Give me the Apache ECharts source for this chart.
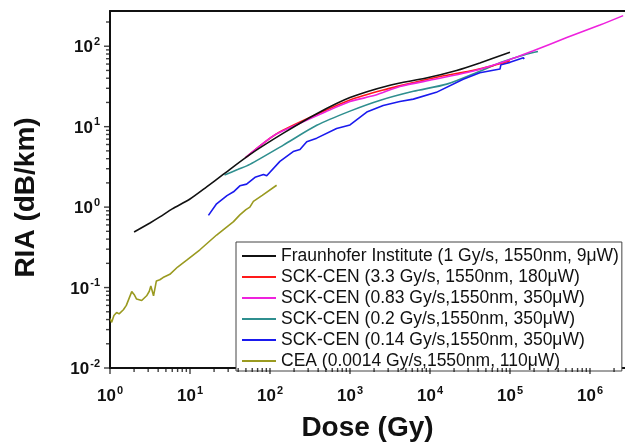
<!DOCTYPE html>
<html><head><meta charset="utf-8">
<script src="https://cdn.jsdelivr.net/npm/echarts@6/dist/echarts.min.js"></script>
<style>html,body{margin:0;padding:0;background:#fff}#c{width:625px;height:447px}</style>
</head><body><div id="c"></div>
<script>
const seriesNames = [
  'Fraunhofer Institute (1 Gy/s, 1550nm, 9\u03bcW)',
  'SCK-CEN (3.3 Gy/s, 1550nm, 180\u03bcW)',
  'SCK-CEN (0.83 Gy/s,1550nm, 350\u03bcW)',
  'SCK-CEN (0.2 Gy/s,1550nm, 350\u03bcW)',
  'SCK-CEN (0.14 Gy/s,1550nm, 350\u03bcW)',
  'CEA (0.0014 Gy/s,1550nm, 110\u03bcW)'
];
const fraunhoferDose = [2,3.2,4.2,6,10,16,26,56,147,384,1000,3160,8700,21500,42000,100000];
const fraunhoferRIA  = [0.49,0.64,0.755,0.95,1.26,1.77,2.55,4.5,8.3,14.5,23,32.8,40,50,62,84];
const sck33Dose = [50,120,445,1000,2600,6000,13300,31600,60000,100000];
const sck33RIA  = [4.15,8.1,15.2,21.5,28.5,35,42,49,57,66];
const sck083Dose = [49,115,237,490,1000,2050,4200,11000,29000,75000,196000,513000,1330000,2600000];
const sck083RIA  = [4.1,7.9,11,15.2,20.5,24.5,31.5,38.5,47,62,88,128,183,240];
const sck02Dose = [27,40,56,147,384,1000,2400,6200,16200,42000,81000,150000,224000];
const sck02RIA  = [2.5,2.95,3.4,5.9,10.4,15.6,21.3,27.5,33.8,49,64,78,86];
const sck014Dose = [17,21.5,29,35,42,51,65,83,91,133,195,237,288,384,680,1000,1620,2600,4200,6200,12000,26000,42000,75000,77000,100000,147000,150000];
const sck014RIA  = [0.79,1.1,1.39,1.55,1.84,1.93,2.35,2.55,2.45,3.7,4.9,5.2,6.5,7.2,9.5,10.5,15.2,18.3,20.5,22,26.7,38.8,46.9,52,59,63,72,69];
const ceaDose = [1,1.05,1.12,1.21,1.3,1.47,1.6,1.87,2.0,2.15,2.49,2.87,3.1,3.24,3.5,3.8,4.2,4.6,5.6,7,9.1,13.3,21.5,35,42,50,56,62,80,121];
const ceaRIA  = [0.041,0.037,0.045,0.049,0.047,0.053,0.06,0.089,0.082,0.072,0.069,0.079,0.09,0.105,0.079,0.121,0.125,0.133,0.146,0.18,0.219,0.295,0.45,0.66,0.8,0.93,1.0,1.18,1.4,1.87];
const colors = ['#111111','#ff1a1a','#ee22dd','#2f8f8f','#1a1aee','#9a9a20'];
const xMin = 1, xMax = 2.74e6, yMin = 0.01, yMax = 274;

function pairs(a,b){ return a.map((v,i)=>[v,b[i]]); }
const dataSets = [
  pairs(fraunhoferDose,fraunhoferRIA), pairs(sck33Dose,sck33RIA), pairs(sck083Dose,sck083RIA),
  pairs(sck02Dose,sck02RIA), pairs(sck014Dose,sck014RIA), pairs(ceaDose,ceaRIA)
];
const xMajor = [], xMinor = [], yMajor = [], yMinor = [];
for (let k=0;k<=6;k++) for (let m=1;m<=9;m++){ const v=Number((m*Math.pow(10,k)).toPrecision(12)); if(v<=xMax) (m===1?xMajor:xMinor).push([v,yMin]); }
for (let k=-2;k<=2;k++) for (let m=1;m<=9;m++){ const v=Number((m*Math.pow(10,k)).toPrecision(12)); if(v<=yMax) (m===1?yMajor:yMinor).push([xMin,v]); }

function fmt(v){ const e=Math.log10(v); const r=Math.round(e); if(Math.abs(e-r)>1e-6) return ''; return '{b|10}{s|'+r+'}'; }
const rich = {
  b:{fontSize:17,fontWeight:'bold',fontFamily:'Liberation Sans, Arial',color:'#111',verticalAlign:'bottom'},
  s:{fontSize:11,fontWeight:'bold',fontFamily:'Liberation Sans, Arial',color:'#111',verticalAlign:'bottom',padding:[0,0,9,1]}
};
const drawOrder = [3,4,1,2,0,5];
const series = drawOrder.map(i=>({
  name: seriesNames[i], type:'line', data: dataSets[i], symbol:'none',
  smooth: (i===4||i===5)?false:0.25,
  lineStyle:{color:colors[i],width:1.6}, itemStyle:{color:colors[i]}, z: 2
}));
function tickScatter(data, vertical, len){
  return {
    type:'scatter', data:data, clip:false, z:10,
    symbol:'rect', symbolSize: vertical ? [1.4,len] : [len,1.4],
    symbolOffset: vertical ? [0,len/2] : [-len/2,0],
    itemStyle:{color:'#111'}
  };
}
series.push(tickScatter(xMajor,true,6), tickScatter(xMinor,true,4), tickScatter(yMajor,false,6), tickScatter(yMinor,false,4));
const chart = echarts.init(document.getElementById('c'),null,{renderer:'canvas'});
chart.setOption({
  animation:false,
  grid:{left:110,right:0,top:11,bottom:73},
  xAxis:[{
    type:'log', logBase:10, min:xMin, max:xMax, position:'bottom',
    name:'Dose (Gy)', nameLocation:'middle', nameGap:46,
    nameTextStyle:{fontSize:28,fontWeight:'bold',fontFamily:'Liberation Sans, Arial',color:'#111'},
    axisLine:{show:true,lineStyle:{color:'#111',width:2}},
    axisTick:{show:false}, splitLine:{show:false},
    axisLabel:{formatter:fmt,rich:rich,margin:17,showMaxLabel:false,hideOverlap:false}
  },{
    type:'log', logBase:10, min:xMin, max:xMax, position:'top',
    axisLine:{show:true,lineStyle:{color:'#111',width:2}},
    axisTick:{show:false}, axisLabel:{show:false}, splitLine:{show:false}
  }],
  yAxis:{
    type:'log', logBase:10, min:yMin, max:yMax,
    name:'RIA (dB/km)', nameLocation:'middle', nameGap:70,
    nameTextStyle:{fontSize:28,fontWeight:'bold',fontFamily:'Liberation Sans, Arial',color:'#111',padding:[0,16,0,0]},
    axisLine:{show:true,lineStyle:{color:'#111',width:2}},
    axisTick:{show:false}, splitLine:{show:false},
    axisLabel:{formatter:fmt,rich:rich,margin:10,showMaxLabel:false,hideOverlap:false}
  },
  legend:{
    orient:'vertical', left:236, top:242,
    data: seriesNames,
    icon:'rect', symbolKeepAspect:false,
    itemWidth:34, itemHeight:2, itemGap:3,
    padding:[5,3,1,6],
    backgroundColor:'#fff', borderColor:'#444', borderWidth:1,
    textStyle:{fontSize:17.5,fontFamily:'Liberation Sans, Arial',color:'#111',lineHeight:17.5}
  },
  series: series
});
</script></body></html>
